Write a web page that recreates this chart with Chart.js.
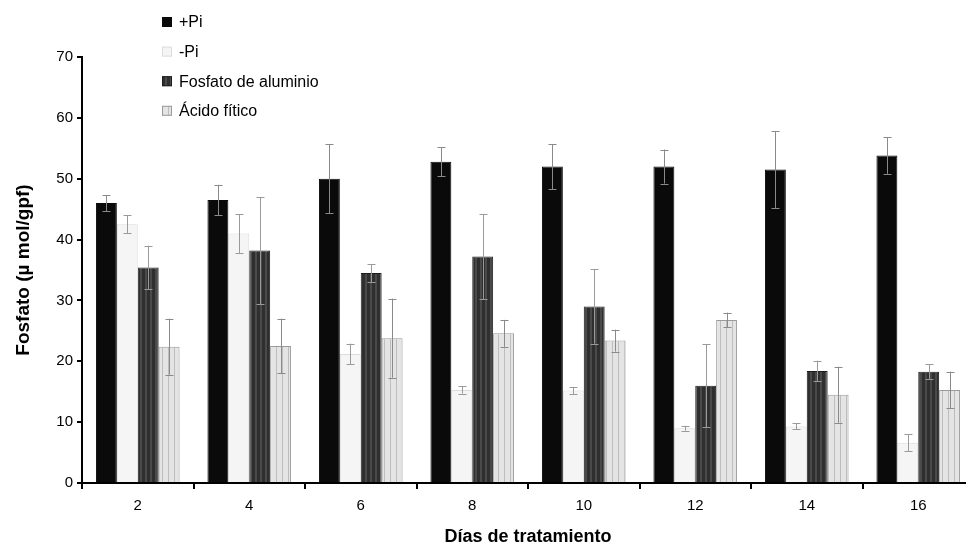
<!DOCTYPE html>
<html>
<head>
<meta charset="utf-8">
<script src="https://cdn.jsdelivr.net/npm/chart.js@4.4.1/dist/chart.umd.min.js"></script>
<style>
  html, body { margin: 0; padding: 0; background: #ffffff; overflow: hidden; }
  #wrap { width: 966px; height: 548px; position: relative; overflow: hidden; }
</style>
</head>
<body>
<div id="wrap"><canvas id="chart" width="974" height="548"></canvas></div>
<script>
// Days of treatment (x categories)
const dias = ['2', '4', '6', '8', '10', '12', '14', '16'];

// Phosphate content (µmol/gpf) per treatment
const masPi       = [46.0, 46.5, 50.0, 52.8, 52.0, 52.0, 51.5, 53.8];
const menosPi     = [42.5, 41.0, 21.2, 15.3, 15.2,  9.0,  9.3,  6.6];
const fosfatoAl   = [35.4, 38.2, 34.5, 37.2, 29.0, 16.0, 18.4, 18.3];
const acidoFitico = [22.4, 22.5, 23.8, 24.6, 23.4, 26.8, 14.5, 15.3];

// Standard error per treatment
const errMasPi       = [1.3, 2.5, 5.7, 2.4, 3.7, 2.8, 6.3, 3.0];
const errMenosPi     = [1.5, 3.2, 1.7, 0.6, 0.6, 0.4, 0.5, 1.4];
const errFosfatoAl   = [3.6, 8.8, 1.5, 7.0, 6.1, 6.8, 1.7, 1.2];
const errAcidoFitico = [4.6, 4.5, 6.5, 2.2, 1.8, 1.2, 4.6, 3.0];

// Y axis ticks
const yTicks = [0, 10, 20, 30, 40, 50, 60, 70];

const FONT = "'Liberation Sans', Arial, sans-serif";

// Striped fills for the textured bars
function stripePattern(base, stripe, period, stripeW) {
  const c = document.createElement('canvas');
  c.width = period; c.height = 4;
  const g = c.getContext('2d');
  g.fillStyle = base; g.fillRect(0, 0, period, 4);
  g.fillStyle = stripe; g.fillRect(0, 0, stripeW, 4);
  return g.createPattern(c, 'repeat');
}
const ctx = document.getElementById('chart').getContext('2d');
const alFill = stripePattern('#2f2f2f', '#4a4a4a', 5, 2);
const fitFill = stripePattern('#e4e4e4', '#bdbdbd', 6, 1);

const series = [
  { label: '+Pi', data: masPi, err: errMasPi, bg: '#0a0a0a', border: '#0a0a0a', errColor: '#8a8a8a' },
  { label: '-Pi', data: menosPi, err: errMenosPi, bg: '#f5f5f5', border: '#dcdcdc', errColor: '#9a9a9a' },
  { label: 'Fosfato de aluminio', data: fosfatoAl, err: errFosfatoAl, bg: alFill, border: '#1e1e1e', errColor: '#9a9a9a' },
  { label: 'Ácido fítico', data: acidoFitico, err: errAcidoFitico, bg: fitFill, border: '#9a9a9a', errColor: '#8a8a8a' }
];

// Error bars drawn from each bar's value and its error through the y scale
const errorBars = {
  id: 'errorBars',
  afterDatasetsDraw(chart) {
    const g = chart.ctx;
    const y = chart.scales.y;
    g.save();
    chart.data.datasets.forEach((ds, i) => {
      const meta = chart.getDatasetMeta(i);
      meta.data.forEach((bar, j) => {
        const v = ds.data[j], e = ds.errValues[j];
        const yTop = y.getPixelForValue(v + e);
        const yBot = y.getPixelForValue(v - e);
        const x = Math.round(bar.x) + 0.5;
        g.strokeStyle = ds.errColor;
        g.lineWidth = 1;
        g.beginPath();
        g.moveTo(x, yTop); g.lineTo(x, yBot);
        g.moveTo(x - 4, Math.round(yTop) + 0.5); g.lineTo(x + 4, Math.round(yTop) + 0.5);
        g.moveTo(x - 4, Math.round(yBot) + 0.5); g.lineTo(x + 4, Math.round(yBot) + 0.5);
        g.stroke();
      });
    });
    g.restore();
  }
};

// Vertical legend in the upper left
const sideLegend = {
  id: 'sideLegend',
  afterDraw(chart) {
    const g = chart.ctx;
    g.save();
    g.font = '16px ' + FONT;
    g.textBaseline = 'middle';
    chart.data.datasets.forEach((ds, i) => {
      const cy = 22 + i * 29.6;
      g.fillStyle = ds.backgroundColor;
      g.fillRect(162, cy - 5, 10, 10);
      g.strokeStyle = ds.borderColor;
      g.lineWidth = 1;
      g.strokeRect(162.5, cy - 4.5, 9, 9);
      g.fillStyle = '#000';
      g.fillText(ds.label, 179, cy + 1);
    });
    g.restore();
  }
};

new Chart(ctx, {
  type: 'bar',
  data: {
    labels: dias,
    datasets: series.map(s => ({
      label: s.label,
      data: s.data,
      errValues: s.err,
      errColor: s.errColor,
      backgroundColor: s.bg,
      borderColor: s.border,
      borderWidth: 1,
      borderSkipped: 'bottom',
      categoryPercentage: 0.75,
      barPercentage: 1.0
    }))
  },
  options: {
    responsive: false,
    animation: false,
    layout: { padding: { top: 57, right: 0, left: 0, bottom: 0 } },
    plugins: {
      legend: { display: false },
      tooltip: { enabled: false }
    },
    scales: {
      x: {
        grid: { display: true, drawOnChartArea: false, offset: true, tickLength: 6, color: '#000', lineWidth: 2 },
        border: { display: true, color: '#000', width: 2 },
        ticks: { color: '#000', font: { family: FONT, size: 15 }, padding: 8, maxRotation: 0 },
        title: { display: true, text: 'Días de tratamiento', color: '#000', font: { family: FONT, size: 18, weight: 'bold' }, padding: { top: 6, bottom: 0 } },
        afterFit(scale) { scale.height = 65; }
      },
      y: {
        min: 0, max: 70,
        afterBuildTicks(scale) { scale.ticks = yTicks.map(v => ({ value: v })); },
        grid: { display: true, drawOnChartArea: false, tickLength: 5, color: '#000', lineWidth: 2 },
        border: { display: true, color: '#000', width: 2 },
        ticks: { color: '#000', font: { family: FONT, size: 15 }, padding: 4 },
        title: { display: true, text: 'Fosfato (\u00b5 mol/gpf)', color: '#000', font: { family: FONT, size: 19, weight: 'bold' }, padding: { top: 12, bottom: 0 } },
        afterFit(scale) { scale.width = 82; }
      }
    }
  },
  plugins: [errorBars, sideLegend]
});
</script>
</body>
</html>
